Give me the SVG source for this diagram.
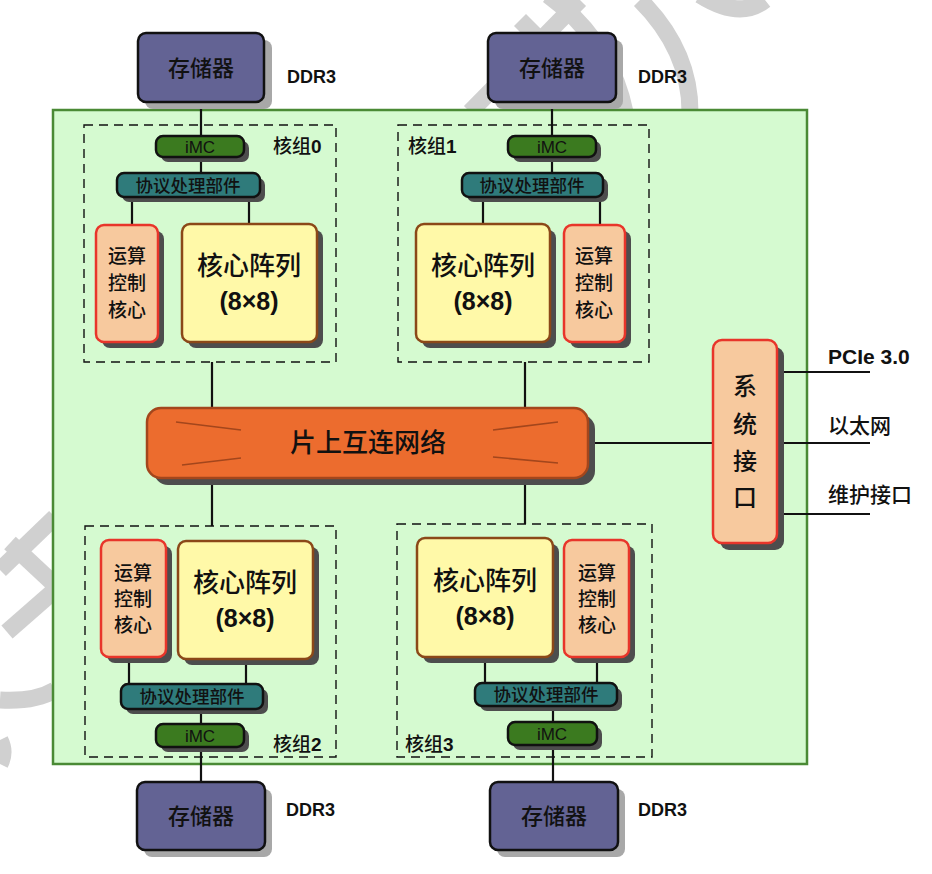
<svg xmlns="http://www.w3.org/2000/svg" width="932" height="874" viewBox="0 0 932 874">
<style>
.cjk{font-family:"Noto Sans CJK SC","Liberation Sans",sans-serif;fill:#111;font-weight:500}
.lat{font-family:"Liberation Sans",Arial,sans-serif;fill:#111}
.b{font-weight:bold}
.wire{stroke:#111;stroke-width:2.2;fill:none}
.shd{fill:#4d4d4d}
.shl{fill:#a8a8a8}
.mem{fill:#636394;stroke:#111;stroke-width:2.5}
.imc{fill:#3b7a1f;stroke:#111;stroke-width:2.5}
.pro{fill:#2f7b7b;stroke:#111;stroke-width:2.5}
.ctl{fill:#f7c99e;stroke:#e8352a;stroke-width:2.5}
.arr{fill:#fff9a8;stroke:#8b4818;stroke-width:2.5}
.grp{fill:none;stroke:#111;stroke-width:1.4;stroke-dasharray:9 6}
.wm{stroke:#d0d0d0;stroke-width:17;fill:none}
</style>
<rect width="932" height="874" fill="#fff"/>
<g id="watermark">
<path class="wm" d="M470 112 L580 0"/>
<path class="wm" d="M548 -5 Q610 40 625 112"/>
<path class="wm" d="M640 0 Q690 50 690 112"/>
<path class="wm" d="M700 -5 Q740 20 765 0"/>
<path class="wm" d="M520 20 L560 60"/>
<path class="wm" d="M0 570 L55 517"/>
<path class="wm" d="M7 632 L55 590"/>
<path class="wm" d="M10 543 L55 585"/>
<path class="wm" d="M0 700 Q35 702 55 690"/>
<path class="wm" d="M0 740 Q6 752 0 764"/>
</g>
<g id="chip">
<rect x="53" y="110" width="754" height="654" fill="#d5fad0" stroke="#4a8a35" stroke-width="2.5"/>
</g>
<g id="connectors">
<path class="wire" d="M201 102 V136 M201 157 V173 M132 197 V225 M249 197 V224"/>
<path class="wire" d="M552 102 V136 M552 157 V173 M483 197 V224 M600 197 V225"/>
<path class="wire" d="M129 657 V684 M246 659 V684 M201 709 V724 M201 747 V782"/>
<path class="wire" d="M485 657 V683 M597 657 V683 M553 706 V722 M553 745 V782"/>
<path class="wire" d="M212 362 V408 M525 362 V408 M212 478 V526 M525 478 V524"/>
<path class="wire" d="M588 443 H713"/>
<path class="wire" d="M777 372 H870 M777 443 H870 M777 514 H870"/>
</g>
<g id="group0">
<rect class="grp" x="84" y="125" width="252" height="237"/>
<text class="cjk" x="273" y="153" font-size="19">核组<tspan class="lat b">0</tspan></text>
</g>
<g id="group1">
<rect class="grp" x="398" y="125" width="251" height="237"/>
<text class="cjk" x="408" y="153" font-size="19">核组<tspan class="lat b">1</tspan></text>
</g>
<g id="group2">
<rect class="grp" x="85" y="526" width="251" height="231"/>
<text class="cjk" x="273" y="751" font-size="19">核组<tspan class="lat b">2</tspan></text>
</g>
<g id="group3">
<rect class="grp" x="397" y="524" width="255" height="233"/>
<text class="cjk" x="405" y="751" font-size="19">核组<tspan class="lat b">3</tspan></text>
</g>
<g id="mem0">
<rect class="shl" x="145" y="40" width="127" height="69" rx="8"/>
<rect class="mem" x="138" y="33" width="126" height="69" rx="8"/>
<text class="cjk" x="201" y="76" font-size="22" text-anchor="middle">存储器</text>
<text class="lat b" x="287" y="83" font-size="18">DDR3</text>
</g>
<g id="mem1">
<rect class="shl" x="495" y="40" width="128" height="69" rx="8"/>
<rect class="mem" x="488" y="33" width="128" height="69" rx="8"/>
<text class="cjk" x="552" y="76" font-size="22" text-anchor="middle">存储器</text>
<text class="lat b" x="638" y="83" font-size="18">DDR3</text>
</g>
<g id="mem2">
<rect class="shl" x="144" y="789" width="128" height="68" rx="8"/>
<rect class="mem" x="137" y="782" width="128" height="68" rx="8"/>
<text class="cjk" x="201" y="824" font-size="22" text-anchor="middle">存储器</text>
<text class="lat b" x="286" y="816" font-size="18">DDR3</text>
</g>
<g id="mem3">
<rect class="shl" x="497" y="789" width="128" height="68" rx="8"/>
<rect class="mem" x="490" y="782" width="128" height="68" rx="8"/>
<text class="cjk" x="554" y="824" font-size="22" text-anchor="middle">存储器</text>
<text class="lat b" x="638" y="816" font-size="18">DDR3</text>
</g>
<g id="imc0">
<rect class="shd" x="161" y="141" width="88" height="21" rx="7"/>
<rect class="imc" x="156" y="136" width="88" height="21" rx="7"/>
<text class="lat" x="200" y="152.5" font-size="17" text-anchor="middle">iMC</text>
</g>
<g id="pro0">
<rect class="shd" x="122" y="178" width="143" height="24" rx="7"/>
<rect class="pro" x="117" y="173" width="143" height="24" rx="7"/>
<text class="cjk" x="188" y="191.5" font-size="17.5" text-anchor="middle">协议处理部件</text>
</g>
<g id="ctl0">
<rect class="shd" x="102" y="231" width="62" height="117" rx="8"/>
<rect class="ctl" x="96" y="225" width="62" height="117" rx="8"/>
<text class="cjk" x="127" y="263" font-size="19" text-anchor="middle">运算</text>
<text class="cjk" x="127" y="290" font-size="19" text-anchor="middle">控制</text>
<text class="cjk" x="127" y="317" font-size="19" text-anchor="middle">核心</text>
</g>
<g id="arr0">
<rect class="shd" x="188" y="230" width="135" height="118" rx="8"/>
<rect class="arr" x="182" y="224" width="135" height="118" rx="8"/>
<text class="cjk" x="249" y="275" font-size="26" text-anchor="middle">核心阵列</text>
<text class="lat b" x="249" y="310" font-size="25" text-anchor="middle">(8×8)</text>
</g>
<g id="imc1">
<rect class="shd" x="513" y="141" width="88" height="21" rx="7"/>
<rect class="imc" x="508" y="136" width="88" height="21" rx="7"/>
<text class="lat" x="552" y="152.5" font-size="17" text-anchor="middle">iMC</text>
</g>
<g id="pro1">
<rect class="shd" x="467" y="178" width="141" height="24" rx="7"/>
<rect class="pro" x="462" y="173" width="141" height="24" rx="7"/>
<text class="cjk" x="532" y="191.5" font-size="17.5" text-anchor="middle">协议处理部件</text>
</g>
<g id="arr1">
<rect class="shd" x="422" y="230" width="134" height="118" rx="8"/>
<rect class="arr" x="416" y="224" width="134" height="118" rx="8"/>
<text class="cjk" x="483" y="275" font-size="26" text-anchor="middle">核心阵列</text>
<text class="lat b" x="483" y="310" font-size="25" text-anchor="middle">(8×8)</text>
</g>
<g id="ctl1">
<rect class="shd" x="570" y="231" width="61" height="117" rx="8"/>
<rect class="ctl" x="564" y="225" width="61" height="117" rx="8"/>
<text class="cjk" x="594" y="263" font-size="19" text-anchor="middle">运算</text>
<text class="cjk" x="594" y="290" font-size="19" text-anchor="middle">控制</text>
<text class="cjk" x="594" y="317" font-size="19" text-anchor="middle">核心</text>
</g>
<g id="ctl2">
<rect class="shd" x="107" y="546" width="65" height="117" rx="8"/>
<rect class="ctl" x="101" y="540" width="65" height="117" rx="8"/>
<text class="cjk" x="133" y="580" font-size="19" text-anchor="middle">运算</text>
<text class="cjk" x="133" y="606" font-size="19" text-anchor="middle">控制</text>
<text class="cjk" x="133" y="632" font-size="19" text-anchor="middle">核心</text>
</g>
<g id="arr2">
<rect class="shd" x="184" y="547" width="135" height="118" rx="8"/>
<rect class="arr" x="178" y="541" width="135" height="118" rx="8"/>
<text class="cjk" x="245" y="592" font-size="26" text-anchor="middle">核心阵列</text>
<text class="lat b" x="245" y="627" font-size="25" text-anchor="middle">(8×8)</text>
</g>
<g id="pro2">
<rect class="shd" x="126" y="689" width="142" height="25" rx="7"/>
<rect class="pro" x="121" y="684" width="142" height="25" rx="7"/>
<text class="cjk" x="192" y="703" font-size="17.5" text-anchor="middle">协议处理部件</text>
</g>
<g id="imc2">
<rect class="shd" x="161" y="729" width="88" height="23" rx="7"/>
<rect class="imc" x="156" y="724" width="88" height="23" rx="7"/>
<text class="lat" x="200" y="741.5" font-size="17" text-anchor="middle">iMC</text>
</g>
<g id="arr3">
<rect class="shd" x="423" y="544" width="136" height="119" rx="8"/>
<rect class="arr" x="417" y="538" width="136" height="119" rx="8"/>
<text class="cjk" x="485" y="590" font-size="26" text-anchor="middle">核心阵列</text>
<text class="lat b" x="485" y="625" font-size="25" text-anchor="middle">(8×8)</text>
</g>
<g id="ctl3">
<rect class="shd" x="570" y="546" width="65" height="117" rx="8"/>
<rect class="ctl" x="564" y="540" width="65" height="117" rx="8"/>
<text class="cjk" x="597" y="580" font-size="19" text-anchor="middle">运算</text>
<text class="cjk" x="597" y="606" font-size="19" text-anchor="middle">控制</text>
<text class="cjk" x="597" y="632" font-size="19" text-anchor="middle">核心</text>
</g>
<g id="pro3">
<rect class="shd" x="480" y="688" width="142" height="23" rx="7"/>
<rect class="pro" x="475" y="683" width="142" height="23" rx="7"/>
<text class="cjk" x="546" y="701" font-size="17.5" text-anchor="middle">协议处理部件</text>
</g>
<g id="imc3">
<rect class="shd" x="513" y="727" width="89" height="23" rx="7"/>
<rect class="imc" x="508" y="722" width="89" height="23" rx="7"/>
<text class="lat" x="552" y="739.5" font-size="17" text-anchor="middle">iMC</text>
</g>
<g id="noc">
<rect class="shd" x="154" y="415" width="441" height="70" rx="14"/>
<rect x="147" y="408" width="441" height="70" rx="14" fill="#ec6c2e" stroke="#a3461c" stroke-width="2.5"/>
<path d="M176 422 L241 430 M182 465 L241 458 M493 430 L558 422 M493 457 L558 463" stroke="#a3461c" stroke-width="1.6" fill="none"/>
<text class="cjk" x="368" y="452" font-size="26" text-anchor="middle">片上互连网络</text>
</g>
<g id="sysif">
<rect class="shd" x="720" y="347" width="64" height="203" rx="9"/>
<rect class="ctl" x="713" y="340" width="64" height="203" rx="9"/>
<text class="cjk" x="745" y="395" font-size="24" text-anchor="middle">系</text>
<text class="cjk" x="745" y="433" font-size="24" text-anchor="middle">统</text>
<text class="cjk" x="745" y="470" font-size="24" text-anchor="middle">接</text>
<text class="cjk" x="745" y="506" font-size="24" text-anchor="middle">口</text>
</g>
<g id="labels">
<text class="lat b" x="828" y="364" font-size="21">PCIe 3.0</text>
<text class="cjk" x="828" y="433" font-size="21">以太网</text>
<text class="cjk" x="828" y="502" font-size="21">维护接口</text>
</g>
</svg>
